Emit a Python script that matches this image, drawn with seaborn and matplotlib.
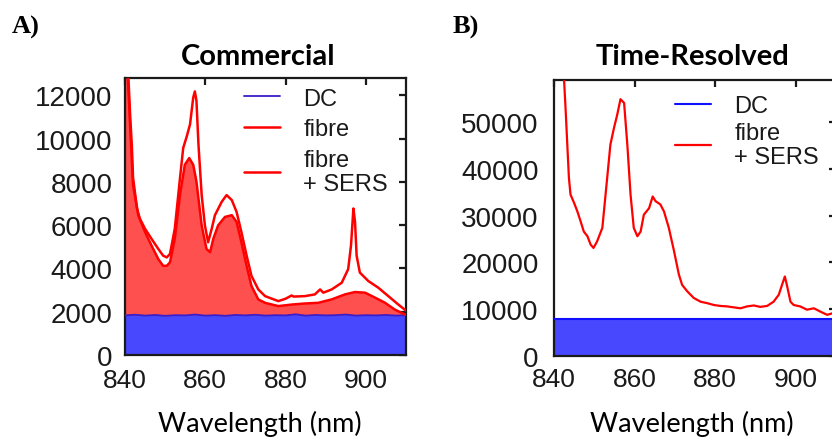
import numpy as np
import pandas as pd
import matplotlib
matplotlib.use("Agg")
import matplotlib.pyplot as plt
import seaborn as sns

# ---------------- Data ----------------
# Panel A: Commercial
a_sers_wl = [840.0, 840.8, 841.3, 841.7, 842.0, 843.0, 843.7, 845.0, 846.6, 848.3, 849.5, 850.4,
             851.2, 852.4, 853.7, 854.5, 855.4, 856.2, 857.0, 857.4, 857.8, 858.3, 859.1, 859.9,
             860.7, 861.6, 862.4, 864.1, 865.3, 866.6, 867.8, 869.0, 870.3, 871.5, 873.2, 874.9,
             878.2, 880.0, 881.5, 882.0, 884.8, 887.3, 888.6, 889.4, 891.5, 894.0, 895.6, 896.3,
             896.9, 897.3, 897.7, 898.5, 900.6, 903.1, 905.6, 908.1, 910.0]
a_sers = [16000, 13000, 11000, 9700, 8200, 6770, 6300, 5830, 5370, 4900, 4590, 4510,
          4670, 5830, 8170, 9570, 10110, 10660, 11900, 12180, 11750, 9730, 7390, 5990,
          5210, 5830, 6460, 7080, 7390, 7160, 6610, 5680, 4590, 3660, 3030, 2720,
          2490, 2600, 2750, 2700, 2720, 2800, 3030, 2880, 3030, 3340, 3970, 5060,
          6770, 6150, 4590, 3810, 3420, 3110, 2720, 2330, 2050]

a_fibre_wl = [840.0, 840.8, 841.3, 841.7, 842.0, 843.3, 845.0, 846.6, 848.3, 849.5, 850.4, 851.2,
              852.4, 853.7, 854.9, 856.0, 857.0, 857.8, 859.1, 860.3, 861.2, 862.0, 863.2, 864.9,
              866.6, 867.8, 869.0, 870.3, 871.5, 873.2, 874.9, 878.2, 881.5, 884.8, 888.1, 891.5,
              894.8, 897.3, 899.8, 902.3, 904.8, 907.2, 910.0]
a_fibre = [15500, 12500, 10500, 9000, 7860, 6460, 5680, 5060, 4430, 4120, 4120, 4280,
           5370, 7390, 8790, 9100, 8790, 8010, 5990, 4900, 4750, 5370, 5990, 6380,
           6460, 6150, 5210, 4120, 3190, 2570, 2410, 2260, 2330, 2380, 2410, 2570,
           2800, 2910, 2880, 2650, 2410, 2100, 1850]

a_dc_wl = [840, 842.5, 845, 847.5, 850, 852.5, 855, 857.5, 860, 862.5, 865, 867.5, 870,
           872.5, 875, 877.5, 880, 882.5, 885, 887.5, 890, 892.5, 895, 897.5, 900, 902.5,
           905, 907.5, 910]
a_dc = [1830, 1860, 1820, 1850, 1810, 1840, 1830, 1870, 1820, 1840, 1810, 1850, 1830,
        1860, 1820, 1840, 1830, 1880, 1820, 1850, 1830, 1840, 1870, 1820, 1840, 1830,
        1850, 1820, 1840]

# Panel B: Time-Resolved
b_sers_wl = [840.0, 841.5, 842.5, 842.9, 843.3, 843.7, 844.1, 845.0, 845.8, 846.6, 847.4, 848.3,
             849.1, 849.8, 850.7, 852.0, 852.8, 854.0, 854.9, 855.7, 856.5, 857.4, 858.2, 859.0,
             859.8, 860.7, 861.5, 862.3, 863.6, 864.5, 865.2, 866.4, 867.3, 868.5, 869.8, 871.0,
             871.8, 873.1, 874.7, 876.4, 878.0, 879.7, 881.3, 883.0, 884.6, 886.3, 887.9, 889.6,
             891.2, 892.9, 894.5, 895.8, 896.6, 897.3, 897.8, 898.7, 899.5, 901.1, 902.8, 904.5,
             906.1, 907.8, 909.0, 910.0]
b_sers = [95000, 72000, 59000, 52400, 45200, 38100, 34500, 32700, 30900, 28800, 26600, 25600,
          23800, 23100, 24500, 27400, 34500, 45200, 48800, 51600, 54900, 54100, 45200, 34500,
          27400, 25600, 26600, 30200, 31600, 34100, 33100, 32400, 30900, 27400, 22400, 17400,
          15200, 13800, 12400, 11600, 11300, 10900, 10700, 10600, 10400, 10200, 10600, 10800,
          10500, 10700, 11600, 13100, 15200, 17000, 15200, 11600, 10900, 10600, 9900, 10200,
          9500, 8800, 9100, 9300]

b_dc_wl = [840, 910]
b_dc = [7900, 7900]

x_ticks = [840, 860, 880, 900]
a_yticks = [0, 2000, 4000, 6000, 8000, 10000, 12000]
b_yticks = [0, 10000, 20000, 30000, 40000, 50000]

# ---------------- Styling ----------------
sns.set_theme(style="white")
plt.rcParams['font.family'] = ['Liberation Sans', 'DejaVu Sans']

RED = '#ff0000'
RED_FILL = '#ff5050'
BLUE_FILL = '#4848ff'

fig = plt.figure(figsize=(8.32, 4.39), dpi=100)
axA = fig.add_axes([125/832, 1-356/439, 281/832, 277/439])
axB = fig.add_axes([554/832, 1-357/439, 282/832, 276/439])

dfA_s = pd.DataFrame({'wl': a_sers_wl, 'v': a_sers})
dfA_f = pd.DataFrame({'wl': a_fibre_wl, 'v': a_fibre})
dfA_d = pd.DataFrame({'wl': a_dc_wl, 'v': a_dc})
dfB_s = pd.DataFrame({'wl': b_sers_wl, 'v': b_sers})
dfB_d = pd.DataFrame({'wl': b_dc_wl, 'v': b_dc})

# Panel A
axA.fill_between(dfA_f['wl'], 0, dfA_f['v'], color=RED_FILL, lw=0, zorder=1)
axA.fill_between(dfA_d['wl'], 0, dfA_d['v'], color=BLUE_FILL, lw=0, zorder=2)
sns.lineplot(data=dfA_d, x='wl', y='v', ax=axA, color='#3a1ec8', lw=1.3, zorder=3, label='DC')
sns.lineplot(data=dfA_f, x='wl', y='v', ax=axA, color=RED, lw=1.8, zorder=3, label='fibre')
sns.lineplot(data=dfA_s, x='wl', y='v', ax=axA, color=RED, lw=1.8, zorder=4, label='fibre\n+ SERS')
axA.set_xlim(840, 910)
axA.set_ylim(0, 12800)
axA.set_yticks(a_yticks)

# Panel B
axB.fill_between(dfB_d['wl'], 0, dfB_d['v'], color=BLUE_FILL, lw=0, zorder=1)
sns.lineplot(data=dfB_d, x='wl', y='v', ax=axB, color='#1010ff', lw=1.5, zorder=3, label='DC')
sns.lineplot(data=dfB_s, x='wl', y='v', ax=axB, color=RED, lw=1.6, zorder=4, label='fibre\n+ SERS')
axB.set_xlim(840, 910)
axB.set_ylim(0, 59000)
axB.set_yticks(b_yticks)

for ax, ypad, xpad in ((axA, 9, 9.5), (axB, 11, 8)):
    ax.set_xticks(x_ticks)
    ax.set_xlabel('')
    ax.set_ylabel('')
    for s in ax.spines.values():
        s.set_color('#1a1a1a')
        s.set_linewidth(1.6)
    ax.tick_params(axis='both', which='both', direction='in', top=True, right=True,
                   length=5, width=1.6, color='#1a1a1a', labelcolor='#1a1a1a')
    ax.tick_params(axis='y', labelsize=20, pad=ypad)
    ax.tick_params(axis='x', labelsize=19, pad=xpad)
    ax.set_facecolor('white')

legA = axA.legend(loc='upper left', bbox_to_anchor=(0.425, 0.965), frameon=False,
                  fontsize=17, handlelength=1.5, handletextpad=1.0, labelspacing=0.36,
                  borderpad=0, borderaxespad=0)
legB = axB.legend(loc='upper left', bbox_to_anchor=(0.43, 0.945), frameon=False,
                  fontsize=17, handlelength=1.5, handletextpad=1.0, labelspacing=0.2,
                  borderpad=0, borderaxespad=0)
for leg in (legA, legB):
    for t in leg.get_texts():
        t.set_color('#1a1a1a')
        t.set_linespacing(1.12)

# Titles, x labels and panel letters
title_font = ['Lato', 'DejaVu Sans']
fig.text(258/832, 1-57/439, 'Commercial', ha='center', va='center', fontsize=21,
         fontweight='bold', family=title_font, color='black')
fig.text(692/832, 1-57/439, 'Time-Resolved', ha='center', va='center', fontsize=21,
         fontweight='bold', family=title_font, color='black')
fig.text(260/832, 1-424/439, 'Wavelength (nm)', ha='center', va='center', fontsize=19.5,
         family=title_font, color='black')
fig.text(692/832, 1-424/439, 'Wavelength (nm)', ha='center', va='center', fontsize=19.5,
         family=title_font, color='black')
fig.text(12/832, 1-27/439, 'A)', ha='left', va='center', fontsize=19, fontweight='bold',
         family=['Liberation Serif', 'DejaVu Serif'], color='black')
fig.text(453/832, 1-27/439, 'B)', ha='left', va='center', fontsize=19, fontweight='bold',
         family=['Liberation Serif', 'DejaVu Serif'], color='black')

fig.savefig('out.png', dpi=100, facecolor='white')
